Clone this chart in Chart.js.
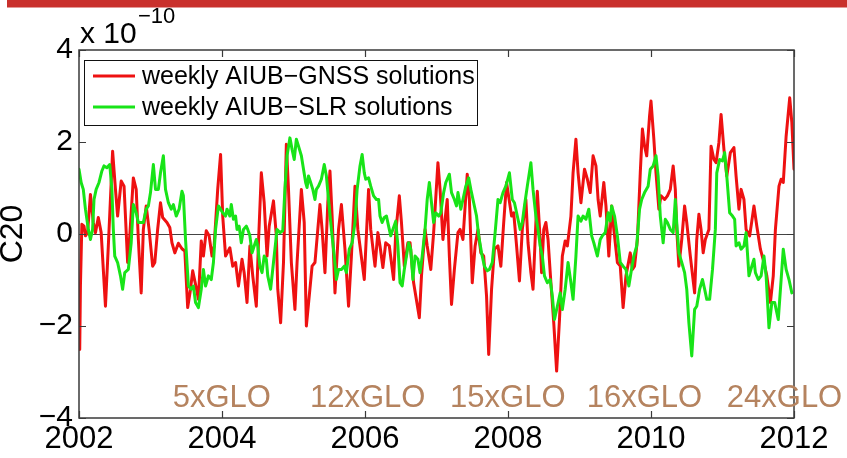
<!DOCTYPE html>
<html>
<head>
<meta charset="utf-8">
<title>C20</title>
<script src="https://cdn.jsdelivr.net/npm/chart.js@4.4.1/dist/chart.umd.min.js"></script>
<style>
  html, body { margin: 0; padding: 0; background: #fff; }
  canvas { display: block; }
</style>
</head>
<body>
<canvas id="graficoC20" width="847" height="458"></canvas>
<script>
// ===================================
// DATOS (C20, unidades de 1e-10)
// ===================================
const anosGnss = [
  2002.01, 2002.02, 2002.04, 2002.07, 2002.09, 2002.12, 2002.16, 2002.20, 2002.23, 2002.27,
  2002.31, 2002.37, 2002.41, 2002.47, 2002.51, 2002.54, 2002.59, 2002.63, 2002.68, 2002.71,
  2002.76, 2002.80, 2002.83, 2002.87, 2002.90, 2002.94, 2002.98, 2003.03, 2003.06, 2003.10,
  2003.14, 2003.17, 2003.23, 2003.27, 2003.30, 2003.34, 2003.39, 2003.44, 2003.48, 2003.52,
  2003.56, 2003.59, 2003.64, 2003.67, 2003.71, 2003.74, 2003.78, 2003.82, 2003.86, 2003.89,
  2003.94, 2003.98, 2004.01, 2004.05, 2004.11, 2004.15, 2004.19, 2004.23, 2004.28, 2004.31,
  2004.35, 2004.39, 2004.43, 2004.48, 2004.51, 2004.55, 2004.59, 2004.63, 2004.66, 2004.72,
  2004.76, 2004.78, 2004.82, 2004.86, 2004.90, 2004.93, 2004.97, 2005.02, 2005.05, 2005.11,
  2005.15, 2005.18, 2005.22, 2005.26, 2005.30, 2005.34, 2005.37, 2005.40, 2005.44, 2005.48,
  2005.51, 2005.54, 2005.58, 2005.63, 2005.67, 2005.72, 2005.77, 2005.81, 2005.86, 2005.90,
  2005.99, 2006.05, 2006.08, 2006.14, 2006.18, 2006.21, 2006.25, 2006.29, 2006.34, 2006.40,
  2006.43, 2006.48, 2006.51, 2006.55, 2006.60, 2006.63, 2006.68, 2006.76, 2006.79, 2006.84,
  2006.87, 2006.92, 2006.96, 2007.02, 2007.05, 2007.09, 2007.15, 2007.18, 2007.21, 2007.25,
  2007.30, 2007.33, 2007.37, 2007.43, 2007.46, 2007.50, 2007.54, 2007.58, 2007.62, 2007.66,
  2007.70, 2007.73, 2007.77, 2007.81, 2007.86, 2007.90, 2007.94, 2007.98, 2008.05, 2008.08,
  2008.12, 2008.16, 2008.20, 2008.25, 2008.28, 2008.32, 2008.35, 2008.39, 2008.41, 2008.45,
  2008.47, 2008.50, 2008.53, 2008.56, 2008.60, 2008.64, 2008.68, 2008.72, 2008.76, 2008.80,
  2008.83, 2008.88, 2008.91, 2008.95, 2008.98, 2009.02, 2009.07, 2009.11, 2009.15, 2009.19,
  2009.23, 2009.26, 2009.29, 2009.34, 2009.37, 2009.41, 2009.45, 2009.48, 2009.53, 2009.57,
  2009.61, 2009.65, 2009.71, 2009.74, 2009.77, 2009.81, 2009.85, 2009.88, 2009.91, 2009.94,
  2009.98, 2010.00, 2010.04, 2010.07, 2010.11, 2010.14, 2010.19, 2010.23, 2010.27, 2010.31,
  2010.34, 2010.36, 2010.39, 2010.43, 2010.47, 2010.50, 2010.55, 2010.61, 2010.64, 2010.67,
  2010.70, 2010.73, 2010.76, 2010.81, 2010.84, 2010.88, 2010.91, 2010.95, 2010.98, 2011.02,
  2011.06, 2011.11, 2011.16, 2011.19, 2011.23, 2011.26, 2011.30, 2011.33, 2011.38, 2011.41,
  2011.44, 2011.48, 2011.53, 2011.58, 2011.62, 2011.67, 2011.71, 2011.74, 2011.79, 2011.82,
  2011.85, 2011.89, 2011.94, 2011.97, 2012.00
];
const valoresGnss = [
  -2.51, -1.13, 0.21, 0.17, -0.04, 0.03, 0.86, 0.25, 0.03, 0.36,
  0.03, -1.57, -0.26, 1.80, 0.97, 0.39, 1.15, 1.04, -0.62, -0.04,
  1.22, 0.97, -0.12, -1.28, 0.10, 0.61, 0.10, -0.70, -0.62, 0.10,
  0.68, 0.36, 0.25, 0.14, -0.19, -0.41, -0.20, -0.32, -0.37, -1.60,
  -1.20, -0.80, -1.17, -1.42, -0.15, -0.48, 0.07, -0.04, -0.48, -0.26,
  0.97, 1.73, 0.39, -0.48, -0.30, -0.70, -0.62, -1.13, -0.55, -0.84,
  -1.49, -0.26, -0.91, -1.57, -0.19, 1.33, 0.68, -0.48, 0.17, 0.72,
  -0.04, -1.20, -1.93, -0.62, 1.95, 0.97, -0.62, -1.64, -0.62, 0.97,
  0.25, -2.00, -1.35, -0.70, -0.62, 0.10, 0.64, 0.10, -0.84, 0.68,
  1.37, 0.39, -1.28, 0.10, 0.64, -0.33, -1.57, -0.48, 1.04, 0.10,
  -0.99, 0.97, 0.10, -0.70, 0.03, -0.26, -0.73, -0.19, -0.26, -0.99,
  0.03, 0.83, 0.25, -0.70, -0.19, -0.19, -1.06, -1.82, -0.91, 0.10,
  -0.26, -0.77, 0.03, 1.55, 0.97, -0.12, 0.75, -0.48, -1.53, -0.77,
  0.03, 0.10, -0.12, 1.30, 0.75, -1.06, -0.26, 0.10, -0.41, -0.48,
  -1.35, -2.62, -1.20, -0.33, -0.26, -0.70, 0.25, 1.12, 0.39, 0.46,
  -0.26, -1.02, 0.10, 0.75, -0.19, -0.84, -1.20, 0.25, 0.93, -0.12,
  -0.84, 0.10, 0.25, -0.12, -1.06, -1.93, -2.98, -1.86, -0.48, -0.15,
  -0.26, 0.39, 1.33, 2.06, 1.33, 0.68, 1.41, 1.19, 0.90, 1.70,
  1.48, 0.75, 0.39, 1.12, 0.61, -0.48, 0.61, 0.10, -0.62, -0.70,
  -1.60, -0.91, -0.41, -0.77, -0.70, -0.12, 1.33, 2.28, 1.91, 1.70,
  2.57, 2.89, 2.06, 1.33, 0.54, 0.83, 0.75, 0.83, 0.97, 1.48,
  0.97, 0.10, -0.70, -0.12, 0.61, 0.25, -0.48, -1.28, -0.12, 0.43,
  0.10, -0.41, -0.12, 0.10, 1.91, 1.62, 1.55, 1.99, 2.60, 1.84,
  1.26, 1.77, 1.88, 1.26, 0.54, 0.97, 0.75, 0.10, -0.04, 0.28,
  0.61, 0.17, -0.33, -0.62, -0.91, -1.49, -0.91, 0.10, 1.04, 1.19,
  1.12, 2.13, 2.96, 2.42, 1.41
];

const anosSlr = [
  2002.00, 2002.03, 2002.06, 2002.09, 2002.13, 2002.16, 2002.19, 2002.21, 2002.24, 2002.28,
  2002.32, 2002.35, 2002.39, 2002.43, 2002.46, 2002.48, 2002.50, 2002.54, 2002.58, 2002.61,
  2002.64, 2002.69, 2002.73, 2002.76, 2002.80, 2002.83, 2002.87, 2002.90, 2002.94, 2002.97,
  2003.00, 2003.04, 2003.07, 2003.11, 2003.14, 2003.18, 2003.21, 2003.25, 2003.29, 2003.32,
  2003.36, 2003.40, 2003.44, 2003.46, 2003.49, 2003.53, 2003.57, 2003.60, 2003.63, 2003.67,
  2003.71, 2003.74, 2003.77, 2003.81, 2003.85, 2003.88, 2003.91, 2003.95, 2003.98, 2004.01,
  2004.05, 2004.07, 2004.11, 2004.13, 2004.16, 2004.19, 2004.21, 2004.24, 2004.27, 2004.30,
  2004.34, 2004.36, 2004.39, 2004.42, 2004.45, 2004.48, 2004.50, 2004.53, 2004.56, 2004.59,
  2004.62, 2004.64, 2004.68, 2004.72, 2004.75, 2004.77, 2004.81, 2004.85, 2004.88, 2004.91,
  2004.95, 2004.98, 2005.01, 2005.04, 2005.07, 2005.11, 2005.14, 2005.17, 2005.19, 2005.21,
  2005.24, 2005.27, 2005.30, 2005.32, 2005.35, 2005.39, 2005.43, 2005.46, 2005.49, 2005.53,
  2005.57, 2005.60, 2005.63, 2005.67, 2005.71, 2005.74, 2005.78, 2005.82, 2005.86, 2005.89,
  2005.93, 2005.96, 2005.99, 2006.01, 2006.05, 2006.08, 2006.12, 2006.16, 2006.19, 2006.21,
  2006.24, 2006.27, 2006.30, 2006.33, 2006.36, 2006.39, 2006.43, 2006.46, 2006.49, 2006.52,
  2006.55, 2006.58, 2006.61, 2006.64, 2006.67, 2006.70, 2006.74, 2006.77, 2006.80, 2006.84,
  2006.87, 2006.90, 2006.93, 2006.96, 2006.99, 2007.03, 2007.06, 2007.10, 2007.13, 2007.18,
  2007.21, 2007.25, 2007.28, 2007.30, 2007.34, 2007.37, 2007.41, 2007.45, 2007.48, 2007.52,
  2007.56, 2007.59, 2007.63, 2007.67, 2007.71, 2007.74, 2007.78, 2007.82, 2007.86, 2007.89,
  2007.93, 2007.97, 2008.02, 2008.06, 2008.09, 2008.13, 2008.17, 2008.20, 2008.23, 2008.27,
  2008.32, 2008.35, 2008.39, 2008.42, 2008.45, 2008.48, 2008.51, 2008.55, 2008.59, 2008.62,
  2008.65, 2008.69, 2008.73, 2008.76, 2008.80, 2008.84, 2008.88, 2008.91, 2008.95, 2008.98,
  2009.02, 2009.05, 2009.09, 2009.13, 2009.17, 2009.20, 2009.25, 2009.29, 2009.32, 2009.36,
  2009.40, 2009.43, 2009.45, 2009.49, 2009.53, 2009.57, 2009.61, 2009.65, 2009.69, 2009.72,
  2009.76, 2009.80, 2009.84, 2009.87, 2009.91, 2009.96, 2009.99, 2010.03, 2010.07, 2010.10,
  2010.13, 2010.17, 2010.20, 2010.23, 2010.27, 2010.31, 2010.34, 2010.36, 2010.39, 2010.43,
  2010.47, 2010.50, 2010.53, 2010.57, 2010.61, 2010.64, 2010.68, 2010.72, 2010.75, 2010.78,
  2010.82, 2010.86, 2010.90, 2010.92, 2010.96, 2011.00, 2011.03, 2011.06, 2011.10, 2011.14,
  2011.17, 2011.19, 2011.23, 2011.26, 2011.30, 2011.33, 2011.37, 2011.41, 2011.44, 2011.46,
  2011.50, 2011.54, 2011.58, 2011.61, 2011.65, 2011.69, 2011.73, 2011.75, 2011.78, 2011.82,
  2011.85, 2011.89, 2011.93, 2011.97
];
const valoresSlr = [
  1.41, 1.12, 0.97, 0.54, 0.10, -0.12, 0.10, 0.75, 0.97, 1.12,
  1.37, 1.48, 1.44, 1.51, 0.97, 0.10, -0.48, -0.62, -0.91, -1.20,
  -0.84, -0.77, -0.19, 0.64, 0.46, 0.25, 0.25, 0.25, 0.54, 0.61,
  0.90, 1.51, 0.97, 0.97, 1.33, 1.70, 0.97, 0.68, 0.54, 0.64,
  0.39, 0.54, 0.93, 0.83, -0.12, -1.13, -1.20, -1.13, -1.49, -1.60,
  -1.20, -0.77, -1.13, -0.91, -0.99, -0.62, 0.10, 0.61, 0.54, 0.46,
  0.39, 0.54, 0.39, 0.64, 0.32, 0.39, 0.10, 0.17, -0.19, 0.10,
  0.17, 0.10, -0.04, -0.41, -0.26, -0.12, -0.26, -0.70, -0.84, -0.48,
  -0.55, -0.91, -1.20, -0.62, -0.19, 0.10, 0.03, 0.07, 0.97, 1.70,
  2.09, 1.84, 1.62, 2.06, 1.91, 1.70, 1.41, 1.12, 1.01, 1.26,
  1.12, 0.97, 0.75, 0.97, 1.04, 1.19, 1.51, 1.26, 0.75, 0.10,
  -0.48, -0.99, -0.77, -0.77, -0.70, -0.84, -0.33, -0.19, 0.25, 0.97,
  1.48, 1.73, 1.33, 1.19, 1.22, 1.04, 0.83, 0.75, 0.75, 0.39,
  0.25, 0.36, 0.39, 0.17, -0.04, 0.10, 0.28, -0.26, -1.06, -1.13,
  -0.77, -0.48, -0.19, -0.33, -0.99, -0.48, -0.55, -0.84, -0.48, 0.10,
  0.75, 1.12, 0.68, 0.25, 0.46, 0.39, 0.46, 0.90, 1.12, 1.30,
  0.90, 0.75, 0.61, 0.90, 0.54, 0.75, 1.04, 1.22, 0.97, 0.68,
  0.39, -0.04, -0.41, -0.70, -0.80, -0.77, -0.62, 0.03, 0.75, 0.68,
  0.90, 1.04, 1.33, 0.75, 0.68, 0.39, 0.10, 0.25, 0.61, 1.04,
  1.55, 0.97, 0.39, 0.10, -0.26, -0.48, -0.91, -1.06, -0.99, -1.35,
  -1.86, -1.57, -1.28, -1.64, -1.20, -0.62, -1.06, -1.42, -0.48, 0.39,
  0.28, 0.39, 0.32, 0.54, -0.04, -0.19, -0.48, -0.12, -0.04, 0.03,
  0.46, 0.28, 0.61, 0.39, -0.04, -0.62, -0.70, -0.77, -1.13, -0.84,
  -0.48, -0.26, 0.54, 0.75, 0.90, 1.04, 1.41, 1.48, 1.70, 1.26,
  0.39, -0.19, 0.32, 0.25, 0.10, 0.03, 0.75, 0.25, -0.41, -0.62,
  -0.84, -1.20, -1.93, -2.65, -1.64, -1.57, -1.20, -0.99, -1.20, -1.42,
  -1.42, -0.77, 0.10, 1.33, 1.62, 1.59, 1.77, 1.26, 0.46, 0.39,
  0.32, -0.26, -0.19, -0.33, -0.26, 0.03, -0.91, -0.70, -0.55, -0.84,
  -0.99, -0.91, -0.48, -0.91, -2.04, -1.49, -1.49, -1.64, -1.86, -0.99,
  -0.33, -0.77, -0.99, -1.28
];

const ticksX = [2002, 2004, 2006, 2008, 2010, 2012];
const ticksY = [-4, -2, 0, 2, 4];

// Número de satélites GLONASS por periodo
const etiquetasGlo = ['5xGLO', '12xGLO', '15xGLO', '16xGLO', '24xGLO'];
const anosGlo = [2003.31, 2005.23, 2007.19, 2009.10, 2011.06];
const nivelGlo = -3.76;

const FUENTE = '"Liberation Sans", Arial, Helvetica, sans-serif';
const canvas = document.getElementById('graficoC20');

function aPuntos(xs, ys){
  return xs.map((x, i) => ({ x: x, y: ys[i] }));
}

// ===================================
// PLUGIN: fondo, caja, marcas, leyenda y textos
// ===================================
const marcoPlugin = {
  id: 'marco',
  beforeDraw(chart){
    const ctx = chart.ctx;
    ctx.save();
    ctx.fillStyle = '#ffffff';
    ctx.fillRect(0, 0, chart.width, chart.height);
    // franja roja superior
    ctx.fillStyle = '#c9302c';
    ctx.fillRect(7, 0, chart.width - 7, 7.5);
    ctx.restore();
  },
  afterDatasetsDraw(chart){
    const { ctx, chartArea: a, scales: { x, y } } = chart;
    ctx.save();

    // caja de ejes
    ctx.strokeStyle = '#3a3a3a';
    ctx.lineWidth = 1.5;
    ctx.strokeRect(a.left, a.top, a.right - a.left, a.bottom - a.top);

    // marcas hacia dentro (arriba/abajo, izquierda/derecha)
    ctx.lineWidth = 1.2;
    ctx.beginPath();
    ticksX.forEach(v => {
      const px = Math.round(x.getPixelForValue(v)) + 0.5;
      ctx.moveTo(px, a.bottom); ctx.lineTo(px, a.bottom - 7);
      ctx.moveTo(px, a.top); ctx.lineTo(px, a.top + 7);
    });
    ticksY.forEach(v => {
      const py = Math.round(y.getPixelForValue(v)) + 0.5;
      ctx.moveTo(a.left, py); ctx.lineTo(a.left + 7, py);
      ctx.moveTo(a.right, py); ctx.lineTo(a.right - 7, py);
    });
    ctx.stroke();

    // leyenda dentro del área
    const lx = a.left + 5, ly = a.top + 10, lw = 393, lh = 65;
    ctx.fillStyle = '#ffffff';
    ctx.fillRect(lx, ly, lw, lh);
    ctx.strokeStyle = '#111';
    ctx.lineWidth = 1;
    ctx.strokeRect(lx + 0.5, ly + 0.5, lw, lh);
    ctx.font = '25px ' + FUENTE;
    ctx.textAlign = 'left';
    ctx.textBaseline = 'middle';
    chart.data.datasets.forEach((ds, i) => {
      const fy = ly + 16 + i * 31;
      ctx.strokeStyle = ds.borderColor;
      ctx.lineWidth = 3;
      ctx.beginPath();
      ctx.moveTo(lx + 9, fy); ctx.lineTo(lx + 51, fy);
      ctx.stroke();
      ctx.fillStyle = '#000';
      ctx.fillText(ds.label, lx + 58, fy + 1);
    });

    // etiquetas GLO
    ctx.font = '31px ' + FUENTE;
    ctx.fillStyle = '#b5835f';
    ctx.textBaseline = 'alphabetic';
    etiquetasGlo.forEach((t, i) => {
      ctx.fillText(t, x.getPixelForValue(anosGlo[i]), y.getPixelForValue(nivelGlo));
    });

    // factor de escala del eje y
    ctx.fillStyle = '#000';
    ctx.font = '30px ' + FUENTE;
    ctx.fillText('x 10', a.left + 1, a.top - 7);
    ctx.font = '22px ' + FUENTE;
    ctx.fillText('\u221210', a.left + 59, a.top - 27);

    ctx.restore();
  }
};

// ===================================
// GRÁFICO
// ===================================
new Chart(canvas.getContext('2d'), {
  type: 'line',
  data: {
    datasets: [
      {
        label: 'weekly AIUB\u2212GNSS solutions',
        data: aPuntos(anosGnss, valoresGnss),
        borderColor: '#ee1111',
        borderWidth: 3,
        order: 1
      },
      {
        label: 'weekly AIUB\u2212SLR solutions',
        data: aPuntos(anosSlr, valoresSlr),
        borderColor: '#18e418',
        borderWidth: 3,
        order: 0
      }
    ]
  },
  options: {
    responsive: false,
    animation: false,
    events: [],
    layout: { padding: { top: 50, right: 53, left: 0, bottom: 0 } },
    elements: {
      point: { radius: 0 },
      line: { tension: 0, borderJoinStyle: 'round', borderCapStyle: 'round' }
    },
    plugins: {
      legend: { display: false },
      tooltip: { enabled: false }
    },
    scales: {
      x: {
        type: 'linear',
        min: 2002,
        max: 2012,
        afterBuildTicks: s => { s.ticks = ticksX.map(v => ({ value: v })); },
        afterFit: s => { s.height = 40; s.paddingLeft = 0; s.paddingRight = 0; },
        grid: { display: false, drawTicks: false },
        border: { display: false },
        ticks: {
          color: '#000',
          padding: 3,
          maxRotation: 0,
          font: { family: FUENTE, size: 31 },
          callback: v => String(v)
        }
      },
      y: {
        type: 'linear',
        min: -4,
        max: 4,
        afterBuildTicks: s => { s.ticks = ticksY.map(v => ({ value: v })); },
        afterFit: s => { s.width = 79; s.paddingTop = 0; s.paddingBottom = 0; },
        grid: {
          drawTicks: false,
          lineWidth: 1,
          color: c => (c.tick && c.tick.value === 0) ? '#444' : 'rgba(0,0,0,0)'
        },
        border: { display: false },
        title: {
          display: true,
          text: 'C20',
          color: '#000',
          padding: 0,
          font: { family: FUENTE, size: 32, lineHeight: 0.8 }
        },
        ticks: {
          color: '#000',
          padding: 6,
          font: { family: FUENTE, size: 30 },
          callback: v => String(v).replace('-', '\u2212')
        }
      }
    }
  },
  plugins: [marcoPlugin]
});
</script>
</body>
</html>
